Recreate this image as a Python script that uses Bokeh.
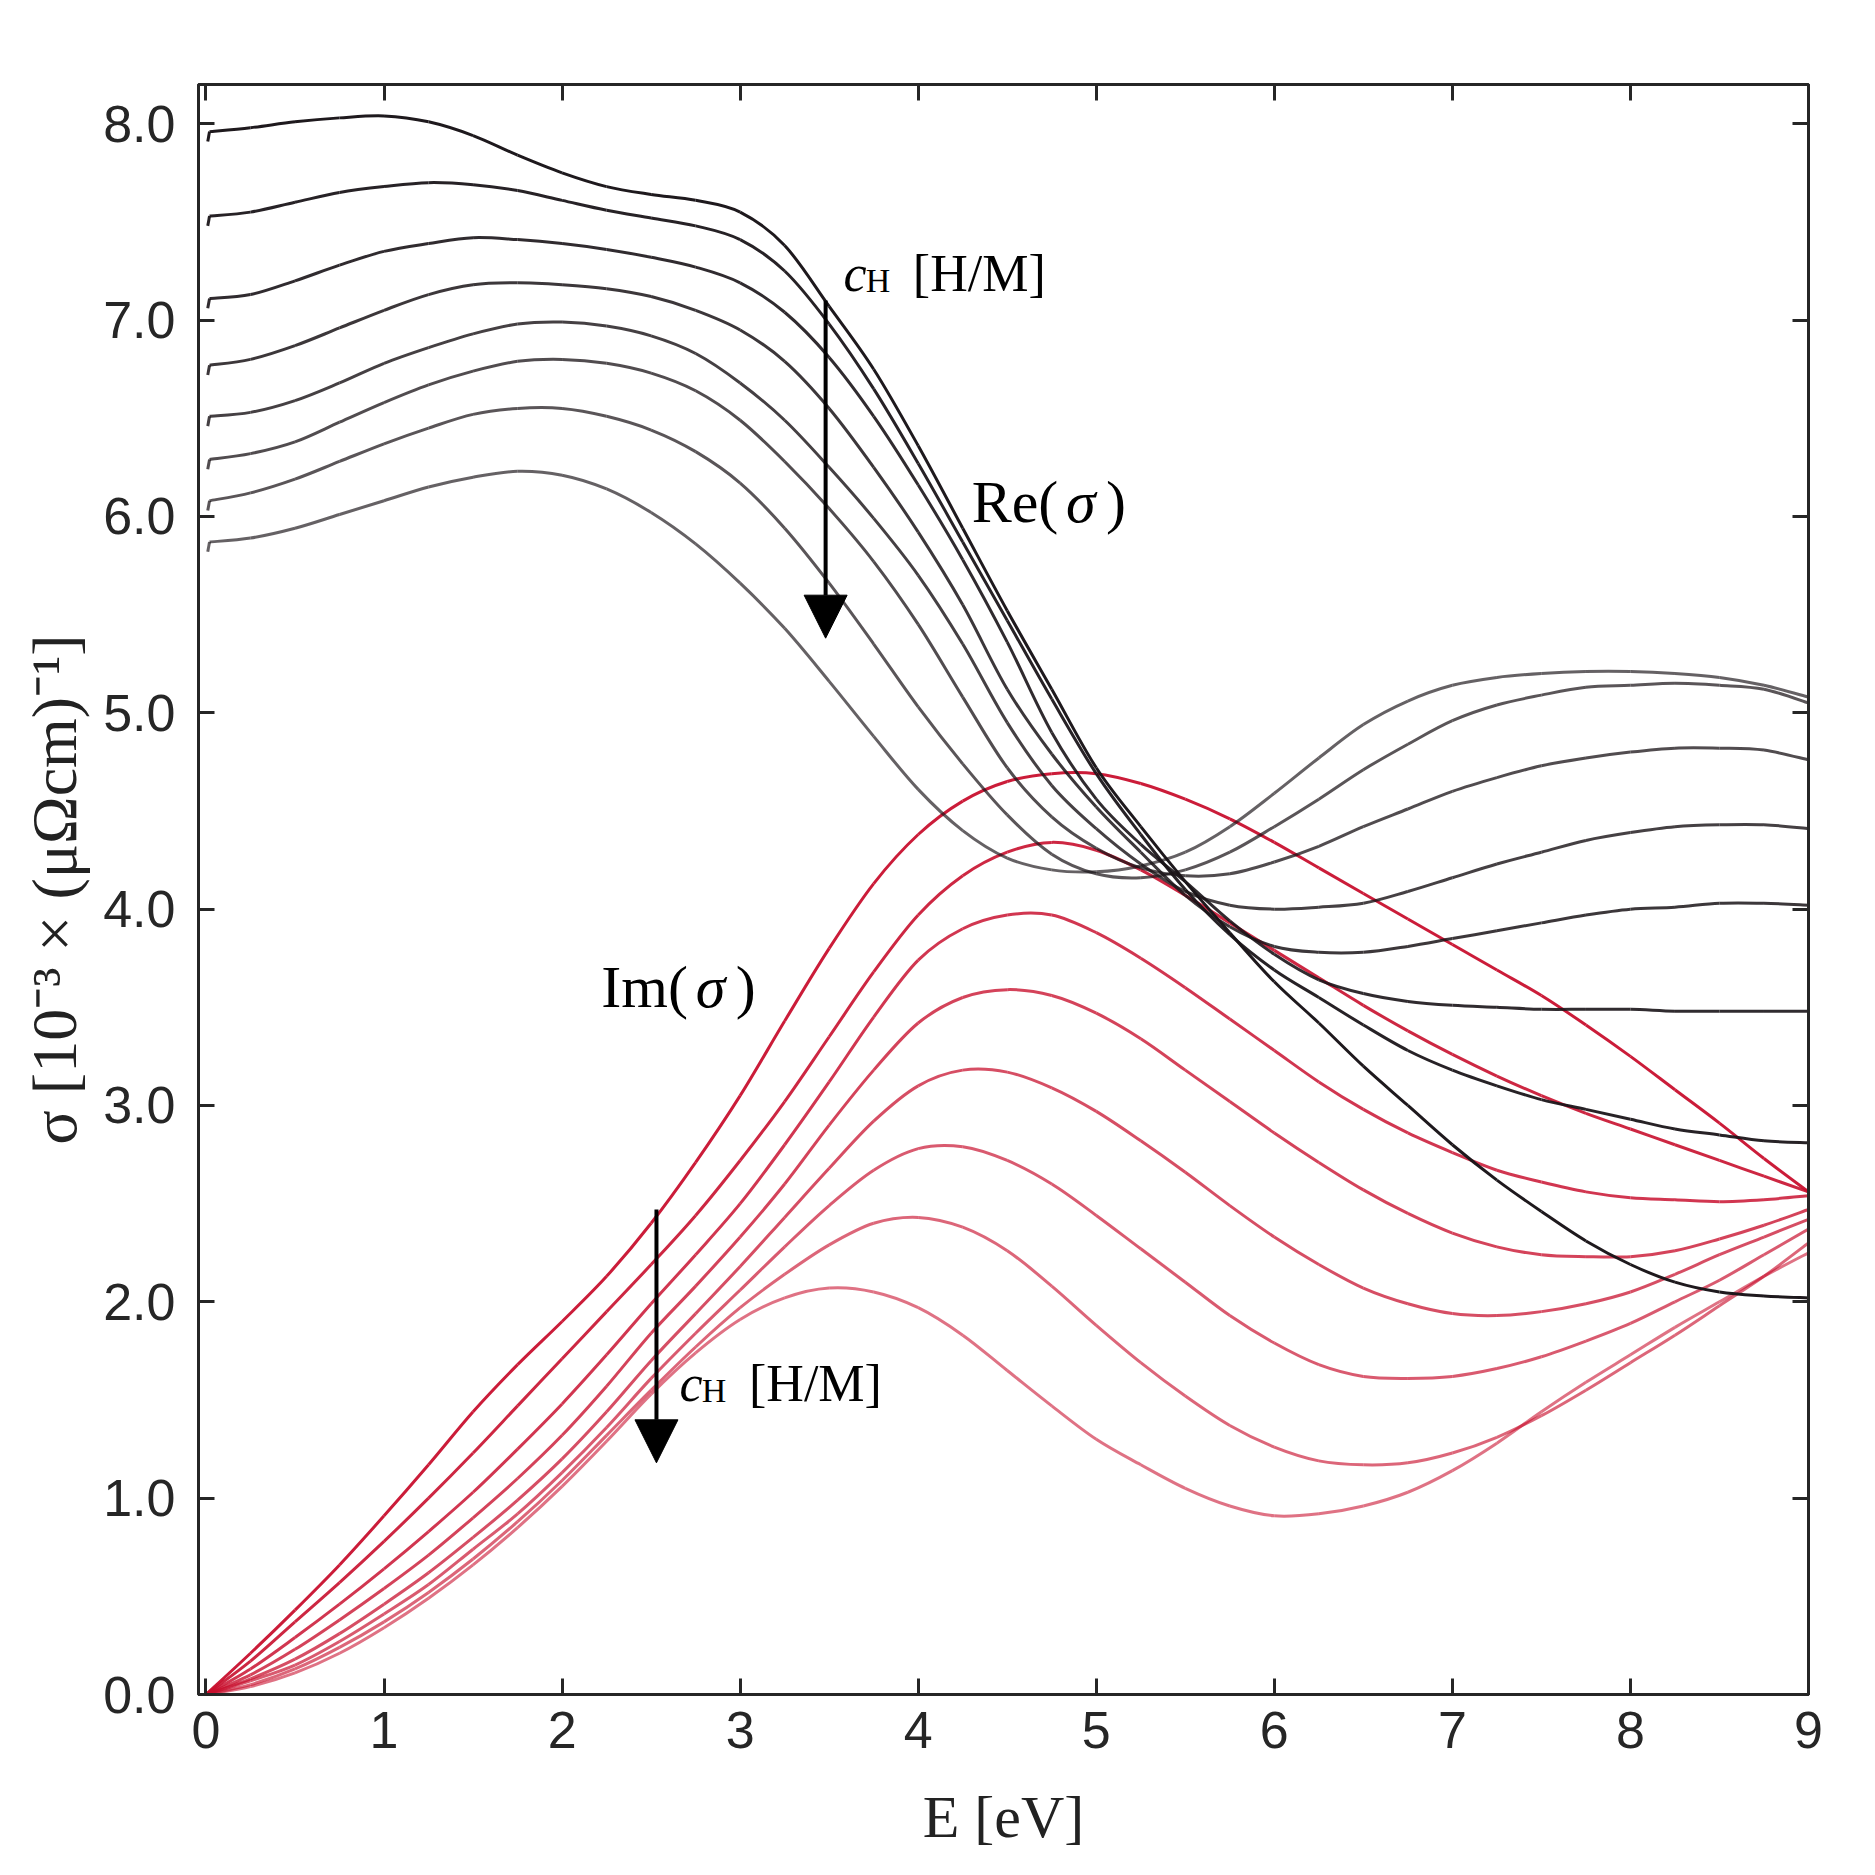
import math
from bokeh.plotting import figure
from bokeh.models import Range1d, LinearAxis, FixedTicker, Label, Arrow, NormalHead, PrintfTickFormatter, CustomJSTickFormatter
from bokeh.embed import file_html
from bokeh.resources import INLINE

# ---------------- data ----------------
E = [0.0, 0.25, 0.5, 0.75, 1.0, 1.25, 1.5, 1.75, 2.0, 2.25, 2.5, 2.75, 3.0, 3.25,
     3.5, 3.75, 4.0, 4.25, 4.5, 4.75, 5.0, 5.25, 5.5, 5.75, 6.0, 6.25, 6.5, 6.75,
     7.0, 7.25, 7.5, 7.75, 8.0, 8.25, 8.5, 8.75, 9.0]

# Re(sigma) curves start with a tiny hook just right of E = 0
re_E = [0.01, 0.02, 0.25, 0.5, 0.75, 1.0, 1.25, 1.5, 1.75, 2.0, 2.25, 2.5, 2.75, 3.0, 3.25,
        3.5, 3.75, 4.0, 4.25, 4.5, 4.75, 5.0, 5.25, 5.5, 5.75, 6.0, 6.25, 6.5, 6.75,
        7.0, 7.25, 7.5, 7.75, 8.0, 8.25, 8.5, 8.75, 9.0]

re_1 = [7.91, 7.96, 7.98, 8.01, 8.03, 8.04, 8.01, 7.94, 7.84, 7.75, 7.68, 7.64, 7.61, 7.55, 7.38,
        7.07, 6.75, 6.36, 5.94, 5.52, 5.12, 4.72, 4.42, 4.14, 3.88, 3.63, 3.42, 3.20, 3.00,
        2.80, 2.62, 2.46, 2.31, 2.19, 2.10, 2.05, 2.03, 2.02]
re_2 = [7.48, 7.53, 7.55, 7.60, 7.65, 7.68, 7.70, 7.69, 7.66, 7.61, 7.56, 7.52, 7.48, 7.41, 7.25,
        6.98, 6.65, 6.27, 5.87, 5.47, 5.07, 4.69, 4.38, 4.10, 3.87, 3.69, 3.55, 3.41, 3.28,
        3.18, 3.10, 3.03, 2.98, 2.93, 2.88, 2.85, 2.82, 2.81]
re_3 = [7.06, 7.11, 7.13, 7.20, 7.28, 7.35, 7.39, 7.42, 7.41, 7.39, 7.36, 7.32, 7.27, 7.19, 7.04,
        6.81, 6.51, 6.16, 5.78, 5.36, 4.90, 4.56, 4.33, 4.14, 3.94, 3.77, 3.64, 3.57, 3.53,
        3.51, 3.50, 3.49, 3.49, 3.49, 3.48, 3.48, 3.48, 3.48]
re_4 = [6.72, 6.77, 6.80, 6.87, 6.96, 7.05, 7.13, 7.18, 7.19, 7.18, 7.16, 7.12, 7.05, 6.95, 6.79,
        6.55, 6.25, 5.92, 5.55, 5.12, 4.79, 4.52, 4.29, 4.07, 3.91, 3.81, 3.78, 3.78, 3.81,
        3.85, 3.89, 3.93, 3.97, 4.00, 4.01, 4.03, 4.03, 4.02]
re_5 = [6.46, 6.51, 6.53, 6.59, 6.68, 6.78, 6.86, 6.93, 6.98, 6.99, 6.97, 6.92, 6.83, 6.68, 6.49,
        6.25, 5.99, 5.70, 5.35, 4.95, 4.63, 4.41, 4.23, 4.09, 4.02, 4.00, 4.01, 4.03, 4.09,
        4.16, 4.23, 4.29, 4.35, 4.39, 4.42, 4.43, 4.43, 4.41]
re_6 = [6.24, 6.29, 6.32, 6.38, 6.48, 6.58, 6.67, 6.74, 6.79, 6.80, 6.78, 6.73, 6.64, 6.49, 6.28,
        6.04, 5.77, 5.45, 5.08, 4.72, 4.47, 4.31, 4.21, 4.17, 4.18, 4.24, 4.32, 4.42, 4.51,
        4.60, 4.67, 4.73, 4.77, 4.80, 4.82, 4.82, 4.81, 4.76]
re_7 = [6.03, 6.08, 6.12, 6.19, 6.28, 6.37, 6.45, 6.52, 6.55, 6.55, 6.51, 6.44, 6.33, 6.17, 5.94,
        5.66, 5.35, 5.03, 4.74, 4.48, 4.28, 4.18, 4.16, 4.20, 4.29, 4.42, 4.56, 4.71, 4.84,
        4.96, 5.04, 5.09, 5.13, 5.14, 5.15, 5.14, 5.12, 5.05]
re_8 = [5.82, 5.87, 5.89, 5.94, 6.01, 6.08, 6.15, 6.20, 6.23, 6.21, 6.14, 6.02, 5.86, 5.66, 5.43,
        5.16, 4.88, 4.61, 4.40, 4.26, 4.20, 4.19, 4.22, 4.29, 4.42, 4.59, 4.77, 4.94, 5.06,
        5.14, 5.18, 5.20, 5.21, 5.21, 5.20, 5.18, 5.14, 5.08]

im_1 = [0.00, 0.21, 0.43, 0.66, 0.91, 1.17, 1.44, 1.68, 1.90, 2.13, 2.40, 2.71, 3.05, 3.43,
        3.80, 4.13, 4.38, 4.55, 4.65, 4.69, 4.69, 4.64, 4.56, 4.46, 4.34, 4.21, 4.08, 3.95,
        3.82, 3.69, 3.56, 3.41, 3.25, 3.08, 2.91, 2.73, 2.56]
im_2 = [0.00, 0.17, 0.37, 0.57, 0.78, 1.00, 1.23, 1.47, 1.71, 1.95, 2.19, 2.44, 2.72, 3.02,
        3.35, 3.68, 3.97, 4.17, 4.29, 4.34, 4.30, 4.20, 4.07, 3.93, 3.79, 3.65, 3.51, 3.38,
        3.26, 3.15, 3.05, 2.96, 2.88, 2.80, 2.72, 2.64, 2.56]
im_3 = [0.00, 0.13, 0.29, 0.46, 0.64, 0.83, 1.03, 1.25, 1.48, 1.73, 1.99, 2.24, 2.50, 2.80,
        3.12, 3.45, 3.74, 3.90, 3.97, 3.97, 3.88, 3.75, 3.60, 3.44, 3.28, 3.12, 2.98, 2.86,
        2.76, 2.67, 2.61, 2.56, 2.53, 2.52, 2.51, 2.52, 2.54]
im_4 = [0.00, 0.10, 0.23, 0.38, 0.54, 0.71, 0.90, 1.10, 1.32, 1.57, 1.84, 2.08, 2.33, 2.60,
        2.90, 3.18, 3.42, 3.55, 3.59, 3.56, 3.47, 3.34, 3.18, 3.02, 2.86, 2.71, 2.57, 2.45,
        2.35, 2.28, 2.24, 2.23, 2.23, 2.26, 2.32, 2.39, 2.47]
im_5 = [0.00, 0.08, 0.18, 0.31, 0.46, 0.62, 0.80, 0.99, 1.20, 1.44, 1.70, 1.94, 2.18, 2.43,
        2.68, 2.92, 3.10, 3.18, 3.17, 3.09, 2.97, 2.82, 2.66, 2.49, 2.33, 2.19, 2.07, 1.99,
        1.94, 1.93, 1.95, 1.99, 2.05, 2.14, 2.24, 2.33, 2.42]
im_6 = [0.00, 0.07, 0.15, 0.27, 0.41, 0.56, 0.74, 0.92, 1.13, 1.36, 1.61, 1.84, 2.06, 2.28,
        2.49, 2.67, 2.78, 2.79, 2.72, 2.60, 2.44, 2.27, 2.10, 1.93, 1.79, 1.68, 1.62, 1.61,
        1.62, 1.66, 1.72, 1.80, 1.89, 2.00, 2.11, 2.24, 2.37]
im_7 = [0.00, 0.05, 0.13, 0.24, 0.37, 0.52, 0.69, 0.88, 1.09, 1.32, 1.55, 1.77, 1.97, 2.14,
        2.29, 2.40, 2.43, 2.38, 2.26, 2.08, 1.88, 1.69, 1.52, 1.37, 1.26, 1.19, 1.17, 1.18,
        1.23, 1.31, 1.42, 1.55, 1.69, 1.83, 1.98, 2.13, 2.30]
im_8 = [0.00, 0.04, 0.11, 0.21, 0.34, 0.49, 0.66, 0.85, 1.06, 1.29, 1.53, 1.74, 1.91, 2.02,
        2.07, 2.05, 1.97, 1.83, 1.65, 1.47, 1.30, 1.17, 1.05, 0.96, 0.91, 0.92, 0.96, 1.03,
        1.14, 1.28, 1.44, 1.59, 1.73, 1.87, 2.00, 2.13, 2.25]

x_ticks = [0, 1, 2, 3, 4, 5, 6, 7, 8, 9]
y_ticks = [0, 1, 2, 3, 4, 5, 6, 7, 8]

re_curves = [re_1, re_2, re_3, re_4, re_5, re_6, re_7, re_8]
im_curves = [im_1, im_2, im_3, im_4, im_5, im_6, im_7, im_8]

# ---------------- styles ----------------
RE_COLOR = "#1a1418"
IM_COLOR = "#c8102e"
re_alphas = [0.98, 0.94, 0.90, 0.85, 0.81, 0.76, 0.72, 0.67]
im_alphas = [0.95, 0.90, 0.84, 0.79, 0.74, 0.69, 0.64, 0.59]
AX = "#262626"
SERIF = "Liberation Serif"

p = figure(frame_width=1610, frame_height=1610,
           min_border_left=198, min_border_right=60, min_border_top=84, min_border_bottom=170,
           x_range=Range1d(-0.042, 9.0), y_range=Range1d(0.0, 8.2),
           output_backend="svg", toolbar_location=None)
p.grid.visible = False
p.background_fill_color = "white"
p.border_fill_color = "white"
p.outline_line_color = AX
p.outline_line_width = 3

for ax in (p.xaxis[0], p.yaxis[0]):
    ax.major_tick_in = 16
    ax.major_tick_out = 0
    ax.minor_tick_line_color = None
    ax.major_tick_line_width = 3
    ax.major_tick_line_color = AX
    ax.axis_line_width = 3
    ax.axis_line_color = AX
    ax.major_label_text_font = "Liberation Sans"
    ax.major_label_text_font_size = "52px"
    ax.major_label_text_color = AX
    ax.axis_label_text_font = SERIF
    ax.axis_label_text_font_style = "normal"
    ax.axis_label_text_color = "#222222"

p.xaxis[0].ticker = FixedTicker(ticks=x_ticks)
p.yaxis[0].ticker = FixedTicker(ticks=y_ticks)
p.yaxis[0].formatter = PrintfTickFormatter(format="%.1f")
p.xaxis[0].major_label_standoff = 17
p.yaxis[0].major_label_standoff = 23
p.xaxis[0].axis_label = "E [eV]"
p.yaxis[0].axis_label = "σ [10⁻³ × (μΩcm)⁻¹]"
p.xaxis[0].axis_label_text_font_size = "60px"
p.yaxis[0].axis_label_text_font_size = "64px"
p.xaxis[0].axis_label_standoff = 33
p.yaxis[0].axis_label_standoff = 10

blank = CustomJSTickFormatter(code="return ''")
top_axis = LinearAxis(ticker=FixedTicker(ticks=x_ticks), formatter=blank)
right_axis = LinearAxis(ticker=FixedTicker(ticks=y_ticks), formatter=blank)
for ax in (top_axis, right_axis):
    ax.major_tick_in = 16
    ax.major_tick_out = 0
    ax.minor_tick_line_color = None
    ax.major_tick_line_width = 3
    ax.major_tick_line_color = AX
    ax.axis_line_width = 3
    ax.axis_line_color = AX
    ax.major_label_text_color = None
    ax.major_label_text_font_size = "0px"
p.add_layout(top_axis, "above")
p.add_layout(right_axis, "right")


def smooth_curve(xs, ys, color, alpha):
    """Draw a curve through the read points as joined Bezier segments (Catmull-Rom tangents)."""
    n = len(xs)
    X0, Y0, X1, Y1, CX0, CY0, CX1, CY1 = [], [], [], [], [], [], [], []
    for i in range(n - 1):
        xa, ya = (xs[i - 1], ys[i - 1]) if i > 0 else (xs[i], ys[i])
        xb, yb = (xs[i + 2], ys[i + 2]) if i + 2 < n else (xs[i + 1], ys[i + 1])
        X0.append(xs[i]); Y0.append(ys[i]); X1.append(xs[i + 1]); Y1.append(ys[i + 1])
        CX0.append(xs[i] + (xs[i + 1] - xa) / 6.0); CY0.append(ys[i] + (ys[i + 1] - ya) / 6.0)
        CX1.append(xs[i + 1] - (xb - xs[i]) / 6.0); CY1.append(ys[i + 1] - (yb - ys[i]) / 6.0)
    p.bezier(x0=X0, y0=Y0, x1=X1, y1=Y1, cx0=CX0, cy0=CY0, cx1=CX1, cy1=CY1,
             line_color=color, line_alpha=alpha, line_width=3)


for ys, a in zip(im_curves, im_alphas):
    smooth_curve(E, ys, IM_COLOR, a)
for ys, a in zip(re_curves, re_alphas):
    p.line(re_E[:2], ys[:2], line_color=RE_COLOR, line_alpha=a, line_width=3)
    smooth_curve(re_E[1:], ys[1:], RE_COLOR, a)

# ---------------- arrows ----------------
p.add_layout(Arrow(end=NormalHead(size=43, fill_color="black", line_color="black"),
                   x_start=3.48, y_start=7.10, x_end=3.48, y_end=5.38,
                   line_color="black", line_width=4))
p.add_layout(Arrow(end=NormalHead(size=43, fill_color="black", line_color="black"),
                   x_start=2.53, y_start=2.47, x_end=2.53, y_end=1.18,
                   line_color="black", line_width=4))


def lab(x, y, text, size, italic=False):
    p.add_layout(Label(x=x, y=y, text=text, text_font=SERIF, text_font_size=size,
                       text_font_style="italic" if italic else "normal",
                       text_color="black", text_baseline="alphabetic", text_align="left"))

# c_H [H/M] (upper)
lab(3.58, 7.235, "c", "52px", italic=True)
lab(3.705, 7.20, "H", "34px")
lab(3.97, 7.235, "[H/M]", "52px")
# Re(sigma)
lab(4.30, 6.075, "Re(", "60px")
lab(4.83, 6.075, "σ", "60px", italic=True)
lab(5.055, 6.075, ")", "60px")
# Im(sigma)
lab(2.22, 3.605, "Im(", "60px")
lab(2.75, 3.605, "σ", "60px", italic=True)
lab(2.975, 3.605, ")", "60px")
# c_H [H/M] (lower)
lab(2.66, 1.585, "c", "52px", italic=True)
lab(2.785, 1.55, "H", "34px")
lab(3.05, 1.585, "[H/M]", "52px")

open("out.html", "w").write(file_html(p, INLINE))
